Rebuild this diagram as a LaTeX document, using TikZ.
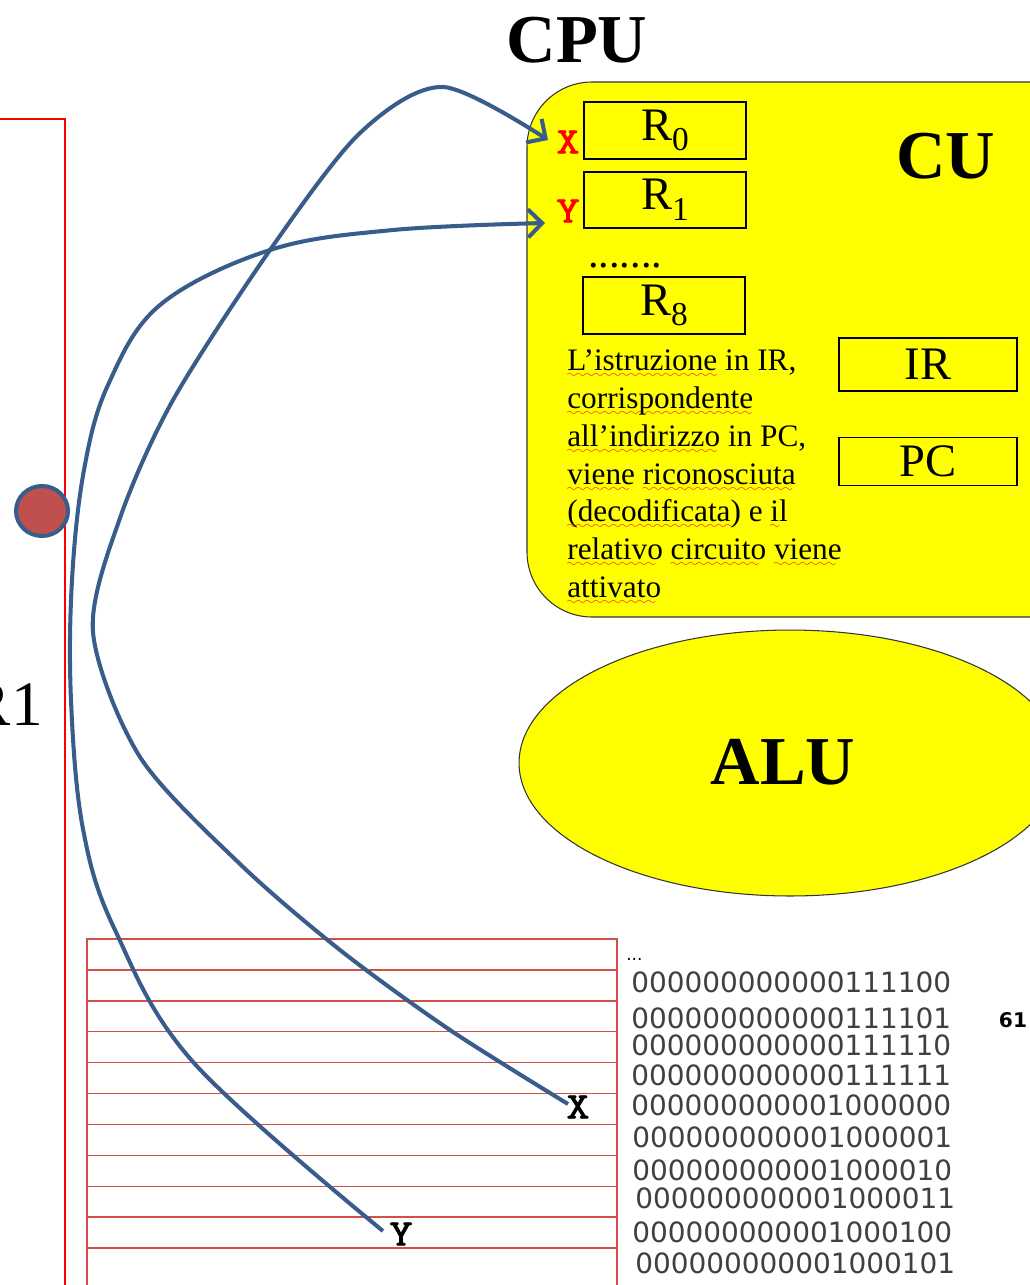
\documentclass[tikz,border=0pt]{standalone}
\usepackage{fontspec}
\setmainfont{Liberation Serif}
\newfontfamily\binfont{DejaVu Sans}
\newfontfamily\varfont[FakeBold=2.5, FakeStretch=1.2]{Latin Modern Mono}
\usetikzlibrary{arrows.meta, shapes.geometric}

\definecolor{cuyellow}{RGB}{255,255,0}
\definecolor{linkblue}{RGB}{56,93,138}
\definecolor{dotred}{RGB}{192,80,77}
\definecolor{memred}{RGB}{210,80,70}

% sottolineatura ondulata rossa (correttore ortografico)
\font\wavefont=lasy6
\newcommand{\spell}[1]{\setbox0\hbox{#1}\rlap{\textcolor{red}{\lower4pt\hbox to \wd0{\leaders\hbox{\wavefont\char58}\hfill}}}\box0\relax}
% nome di registro con pedice
\newcommand{\regname}[1]{R\raisebox{-6pt}{\fontsize{19}{19}\selectfont #1}}

\begin{document}
\begin{tikzpicture}[
    x=0.02cm, y=-0.02cm,
    reg box/.style={draw, line width=0.8pt, inner sep=0pt, font=\fontsize{26.5}{26.5}\selectfont},
    big label/.style={font=\fontsize{39}{39}\selectfont\bfseries, inner sep=0pt},
    var label/.style={font=\varfont\fontsize{21}{21}\selectfont, inner sep=0pt},
    bin text/.style={font=\binfont\fontsize{15.9}{15.9}\selectfont, text=black!75, anchor=west, inner sep=0pt},
    mem line/.style={draw=memred, line width=0.8pt},
    link arrow/.style={draw=linkblue, line width=2.3pt, -{Straight Barb[length=8pt,width=16pt]}}
]

\useasboundingbox (0,0) rectangle (1030,1285);
\clip (0,0) rectangle (1030,1285);

% 1. Memoria a sinistra (riquadro rosso, R1)
\draw[red, line width=1.1pt] (-20,119) -- (65,119) -- (65,1300);
\node[ellipse, fill=dotred, draw=linkblue, line width=2.3pt, minimum width=1.04cm, minimum height=1.0cm] (dot) at (42,511) {};
\node[font=\fontsize{36}{36}\selectfont, anchor=base east, inner sep=0pt] (rone) at (43,725) {R1};

% 2. CPU e CU
\node[big label] (cpu) at (577,40) {CPU};
\draw[fill=cuyellow, draw=black!80, line width=0.6pt, rounded corners=1.3cm] (527,82) rectangle (1130,617);
\node[big label] (cu) at (946,156) {CU};

\node[reg box, minimum width=3.24cm, minimum height=1.14cm] (r0) at (665,130.5) {\regname{0}};
\node[reg box, minimum width=3.24cm, minimum height=1.12cm] (r1) at (665,200) {\regname{1}};
\node[font=\fontsize{24}{24}\selectfont, anchor=base west, inner sep=0pt] (rdots) at (588,267) {.......};
\node[reg box, minimum width=3.24cm, minimum height=1.14cm] (r8) at (664,305.5) {\regname{8}};
\node[reg box, minimum width=3.56cm, minimum height=1.06cm] (ir) at (928,364.5) {IR};
\node[reg box, minimum width=3.56cm, minimum height=0.96cm] (pc) at (928,461.5) {PC};

\node[var label, text=red] (regx) at (568,142) {X};
\node[var label, text=red] (regy) at (568,211) {Y};

\node[anchor=north west, inner sep=0pt, align=left, font=\fontsize{17.8}{21.6}\selectfont] (note) at (567,349) {%
\spell{L’istruzione} in IR,\\
\spell{corrispondente}\\
\spell{all’indirizzo} in PC,\\
\spell{viene} \spell{riconosciuta}\\
\spell{(decodificata)} e \spell{il}\\
\spell{relativo} \spell{circuito} \spell{viene}\\
\spell{attivato}};

% 3. ALU
\node[ellipse, fill=cuyellow, draw=black!80, line width=0.6pt, inner sep=0pt,
      minimum width=10.84cm, minimum height=5.32cm] (alu) at (790,763) {};
\node[big label] (alulabel) at (783,762) {ALU};

% 4. Celle di memoria e indirizzi
\draw[mem line] (87,1300) -- (87,939) -- (617,939) -- (617,1300);
\foreach \k in {1,...,10} { \draw[mem line] (87,939+30.9*\k) -- (617,939+30.9*\k); }

\node[font=\binfont\fontsize{9.6}{9.6}\selectfont, anchor=base west, inner sep=0pt] (bindots) at (626,960) {...};
\foreach \y/\x/\bits [count=\i] in {
    982/631/000000000000111100,
    1018/631/000000000000111101,
    1045/631/000000000000111110,
    1075/631/000000000000111111,
    1105/631/000000000001000000,
    1137/632/000000000001000001,
    1170/632/000000000001000010,
    1198/635/000000000001000011,
    1232/632/000000000001000100,
    1263/635/000000000001000101
}{
    \node[bin text] (bin\i) at (\x,\y) {\bits};
}
\node[font=\binfont\bfseries\fontsize{11.5}{11.5}\selectfont, inner sep=0pt] (addr) at (1013,1020) {61};

\node[var label] (memx) at (578,1107) {X};
\node[var label] (memy) at (401,1234) {Y};

% 5. Frecce memoria -> registri
\coordinate (xsrc) at (568,1104);
\coordinate (ysrc) at (383,1231);
\coordinate (r0in) at (548,140);
\coordinate (r1in) at (545,223);

\draw[link arrow] plot[smooth] coordinates {(xsrc) (450,1030) (340,950) (240,864) (140,757) (93,632) (120,518) (173,400) (270,250) (360,133) (443,87) (r0in)};
\draw[link arrow] plot[smooth, tension=0.6] coordinates {(ysrc) (194,1063) (115,930) (83,829) (71,700) (72,580) (84,470) (108,385) (160,305) (270,250) (393,230) (r1in)};

\end{tikzpicture}
\end{document}
